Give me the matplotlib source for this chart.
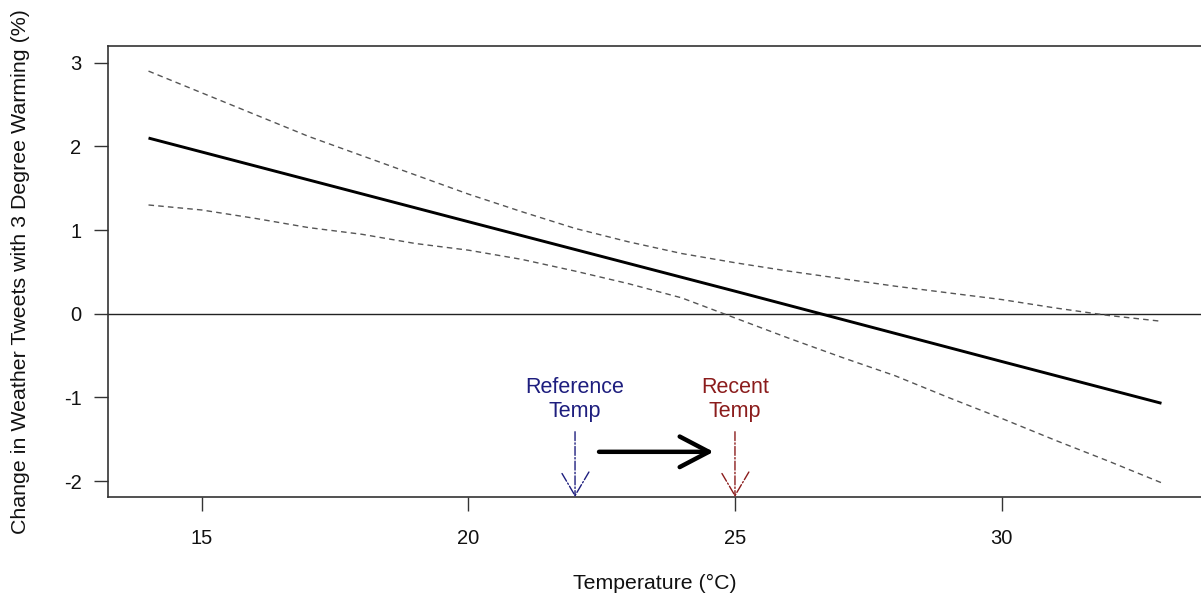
import matplotlib
matplotlib.use("Agg")
import matplotlib.pyplot as plt

plt.rcParams['font.family'] = ['Liberation Sans', 'DejaVu Sans']

# Data
temps_ci = [14, 15, 16, 17, 18, 19, 20, 21, 22, 23, 24, 25, 26, 27, 28, 29, 30, 31, 32, 33]
upper_ci = [2.90, 2.64, 2.38, 2.12, 1.89, 1.66, 1.43, 1.22, 1.02, 0.86, 0.72, 0.61,
            0.51, 0.42, 0.33, 0.25, 0.17, 0.07, -0.02, -0.09]
lower_ci = [1.30, 1.24, 1.14, 1.03, 0.95, 0.84, 0.76, 0.65, 0.51, 0.36, 0.19, -0.05,
            -0.29, -0.52, -0.74, -1.00, -1.25, -1.51, -1.76, -2.02]
temps_fit = [14, 20, 25, 30, 33]
fit = [2.10, 1.10, 0.27, -0.57, -1.07]

ref_temp = 22
recent_temp = 25
xticks = [15, 20, 25, 30]
yticks = [-2, -1, 0, 1, 2, 3]

W, H = 1201, 598
fig = plt.figure(figsize=(W / 100, H / 100), dpi=100)
ax_left, ax_right, ax_top, ax_bottom = 108, 1202, 46, 497
ax_w = ax_right - ax_left
ax = fig.add_axes([ax_left / W, 1 - ax_bottom / H, ax_w / W, (ax_bottom - ax_top) / H])

ax.set_xlim(13.24, 33.76)
ax.set_ylim(-2.19, 3.20)

ax.axhline(0, color='#222222', lw=1.0, zorder=1)
ax.plot(temps_ci, upper_ci, color='#555555', lw=1.0, ls=(0, (4, 3)))
ax.plot(temps_ci, lower_ci, color='#555555', lw=1.0, ls=(0, (4, 3)))
ax.plot(temps_fit, fit, color='black', lw=2.1, solid_capstyle='butt')

ylo = ax.get_ylim()[0]
blue = '#1e1e7e'
red = '#8b1c1c'
ax.annotate('', xy=(ref_temp, ylo), xytext=(ref_temp, -1.41),
            arrowprops=dict(arrowstyle='->,head_length=1.7,head_width=1.0', linestyle='-.',
                            color=blue, lw=1.0, mutation_scale=10, shrinkA=0, shrinkB=0))
ax.annotate('', xy=(recent_temp, ylo), xytext=(recent_temp, -1.41),
            arrowprops=dict(arrowstyle='->,head_length=1.7,head_width=1.0', linestyle='-.',
                            color=red, lw=1.0, mutation_scale=10, shrinkA=0, shrinkB=0))
ax.text(ref_temp, -1.02, 'Reference\nTemp', color=blue, ha='center', va='center',
        fontsize=15.5, linespacing=1.2)
ax.text(recent_temp, -1.02, 'Recent\nTemp', color=red, ha='center', va='center',
        fontsize=15.5, linespacing=1.2)
ax.annotate('', xy=(24.6, -1.65), xytext=(22.45, -1.65),
            arrowprops=dict(arrowstyle='->,head_length=2.1,head_width=1.1', color='black',
                            lw=3.2, mutation_scale=10, shrinkA=0, shrinkB=0,
                            capstyle='round', joinstyle='round'))

ax.set_xticks(xticks)
ax.set_yticks(yticks)
ax.set_xticklabels([str(t) for t in xticks])
ax.set_yticklabels([str(t) for t in yticks])
ax.tick_params(axis='both', direction='out', length=10, width=1.0, color='#333333',
               labelsize=14.5, labelcolor='#111111')
ax.tick_params(axis='x', pad=13)
ax.tick_params(axis='y', pad=9)
for s in ax.spines.values():
    s.set_color('#333333')
    s.set_linewidth(1.2)

ax.set_xlabel('Temperature (°C)', fontsize=15.3, labelpad=19, color='#111111')
ax.set_ylabel('Change in Weather Tweets with 3 Degree Warming (%)', fontsize=15.4,
              color='#111111', va='center')
ax.yaxis.set_label_coords((21 - ax_left) / ax_w, 0.5)

fig.savefig('out.png', dpi=100)
